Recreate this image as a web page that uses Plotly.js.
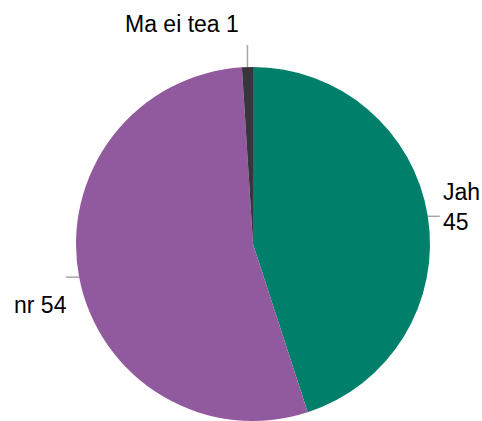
<!DOCTYPE html>
<html>
<head>
<meta charset="utf-8">
<script src="https://cdn.plot.ly/plotly-3.0.1.min.js"></script>
<style>html,body{margin:0;padding:0;background:#fff;}#chart{width:482px;height:421px;}</style>
</head>
<body>
<div id="chart"></div>
<script>
var categories = ["Jah", "nr", "Ma ei tea"];
var values = [45, 54, 1];
var labelTexts = ["Jah<br>45", "nr 54", "Ma ei tea 1"];
var colors = ["#00806A", "#925A9E", "#38363C"];

var W = 482, H = 421;
var cx = 253, cy = 244, R = 177;

var total = values.reduce(function(a, b){ return a + b; }, 0);
var shapes = [], annotations = [];
var cum = 0;
// label placement per slice (pixel offsets)
var place = [
  {dir: "h", len: 12, ax: "left", ay: "middle", dx: 1, dy: -9},
  {dir: "h", len: -13, ax: "right", ay: "top", dx: 3, dy: 13},
  {dir: "v", len: -22, ax: "center", ay: "bottom", dx: -65, dy: -6}
];
function px(x){ return x / W; }
function py(y){ return 1 - y / H; }
for (var i = 0; i < values.length; i++) {
  var mid = (cum + values[i] / 2) / total * 2 * Math.PI;
  cum += values[i];
  var ex = cx + R * Math.sin(mid), ey = cy - R * Math.cos(mid);
  var p = place[i];
  var x1 = ex, y1 = ey, x2, y2;
  if (p.dir === "h") { x2 = ex + p.len; y2 = ey; } else { x2 = ex; y2 = ey + p.len; }
  shapes.push({type: "line", xref: "paper", yref: "paper",
    x0: px(x1), y0: py(y1), x1: px(x2), y1: py(y2),
    line: {color: "#A6A6A6", width: 1.5}});
  annotations.push({xref: "paper", yref: "paper",
    x: px(x2 + p.dx), y: py(y2 + p.dy), xanchor: p.ax, yanchor: p.ay,
    text: labelTexts[i], showarrow: false, align: "left",
    font: {family: "Liberation Sans, Arial, sans-serif", size: 23, color: "#000"}});
}

var data = [{
  type: "pie",
  labels: categories,
  values: values,
  sort: false,
  direction: "clockwise",
  rotation: 0,
  marker: {colors: colors, line: {width: 0}},
  textinfo: "none",
  hoverinfo: "label+value",
  domain: {x: [(cx - R) / W, (cx + R) / W], y: [(H - cy - R) / H, (H - cy + R) / H]}
}];

var layout = {
  width: W, height: H,
  margin: {l: 0, r: 0, t: 0, b: 0},
  showlegend: false,
  paper_bgcolor: "#fff",
  shapes: shapes,
  annotations: annotations
};
Plotly.newPlot("chart", data, layout, {displayModeBar: false, staticPlot: true});
</script>
</body>
</html>
